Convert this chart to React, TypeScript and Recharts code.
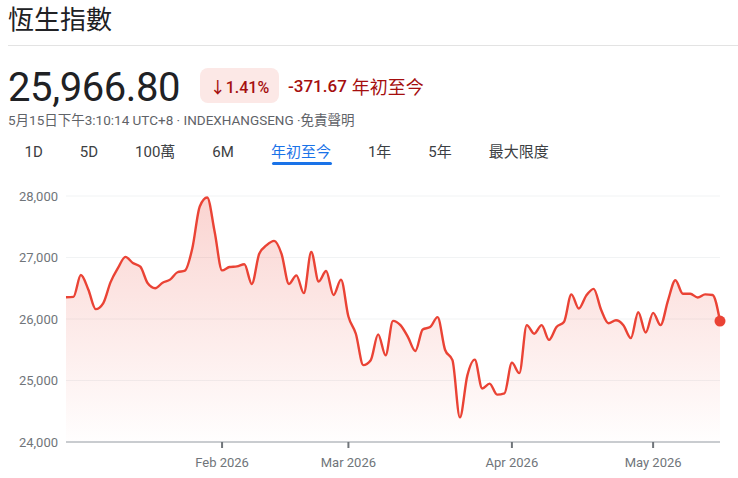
import React from 'react';
import { AreaChart, Area, XAxis, YAxis, CartesianGrid, ReferenceDot } from 'recharts';

const closes = [
  26353, 26360, 26715, 26480, 26160, 26255, 26600, 26830, 27010, 26910,
  26850, 26580, 26500, 26590, 26640, 26760, 26785, 27150, 27830, 27975,
  27420, 26790, 26845, 26855, 26890, 26570, 27060, 27200, 27270, 27060,
  26570, 26710, 26420, 27090, 26610, 26780, 26390, 26640, 26040, 25760,
  25250, 25330, 25750, 25410, 25970, 25900, 25710, 25480, 25830, 25870,
  26030, 25500, 25330, 24400, 25080, 25340, 24870, 24950, 24770, 24790,
  25290, 25120, 25900, 25760, 25900, 25660, 25870, 25950, 26400, 26170,
  26380, 26490, 26150, 25930, 25980, 25900, 25690, 26110, 25780, 26100,
  25900, 26300, 26630, 26410, 26410, 26350, 26400, 26390, 25966.8,
];
const monthTickIndex = [21, 38, 60, 79];
const monthTickLabels = ['Feb 2026', 'Mar 2026', 'Apr 2026', 'May 2026'];
const yTicks = [24000, 25000, 26000, 27000, 28000];
const tabs = ['1D', '5D', '100萬', '6M', '年初至今', '1年', '5年', '最大限度'];
const activeTab = '年初至今';
const title = '恆生指數';
const priceText = '25,966.80';
const pctText = '↓1.41%';
const changeText = '-371.67';
const periodText = '年初至今';
const metaText = '5月15日下午3:10:14 UTC+8 · INDEXHANGSENG ·免責聲明';

const data = closes.map((v, i) => ({ i, v }));

const FONT = 'Roboto, "Noto Sans CJK TC", sans-serif';
const RED = '#ea4335';
const DARKRED = '#a50e0e';

export default function App() {
  const last = closes.length - 1;
  return (
    <div style={{ position: 'absolute', left: 0, top: 0, width: 738, height: 478, background: '#fff', fontFamily: FONT, overflow: 'hidden' }}>
      <div style={{ position: 'absolute', left: 8, top: 4.5, fontSize: 26, lineHeight: '26px', color: '#202124', fontFamily: '"Noto Sans CJK TC", sans-serif', fontWeight: 400 }}>{title}</div>
      <div style={{ position: 'absolute', left: 8, right: 0, top: 45, height: 1, background: '#e3e3e3' }} />
      <div style={{ position: 'absolute', left: 8, top: 68, fontSize: 40, lineHeight: '40px', color: '#202124', letterSpacing: -0.4 }}>{priceText}</div>
      <div style={{ position: 'absolute', left: 200, top: 68, width: 79, height: 35, borderRadius: 8, background: '#fce8e6', display: 'flex', alignItems: 'center', justifyContent: 'center', color: DARKRED, fontSize: 16, fontWeight: 500 }}>{pctText}</div>
      <div style={{ position: 'absolute', left: 288, top: 68, height: 35, display: 'flex', alignItems: 'center', color: DARKRED, fontSize: 17, whiteSpace: 'nowrap' }}>
        <span style={{ fontWeight: 500 }}>{changeText}</span>
        <span style={{ marginLeft: 5, fontSize: 18 }}>{periodText}</span>
      </div>
      <div style={{ position: 'absolute', left: 8, top: 113, fontSize: 13.5, lineHeight: '15px', color: '#5f6368', whiteSpace: 'nowrap' }}>{metaText}</div>
      <div style={{ position: 'absolute', left: 24.5, top: 142, display: 'flex', gap: 37, fontSize: 15, lineHeight: '20px', fontWeight: 400, whiteSpace: 'nowrap' }}>
        {tabs.map((t) => (
          <div key={t} style={{ position: 'relative', color: t === activeTab ? '#1a73e8' : '#3c4043' }}>
            {t}
            {t === activeTab && (
              <div style={{ position: 'absolute', left: 1, right: -1, top: 19.5, height: 3, borderRadius: 2, background: '#1a73e8' }} />
            )}
          </div>
        ))}
      </div>
      <div style={{ position: 'absolute', left: 0, top: 170 }}>
        <AreaChart width={738} height={308} data={data} margin={{ top: 26, right: 18, bottom: 6, left: 0 }}>
          <defs>
            <linearGradient id="fillRed" x1="0" y1="0" x2="0" y2="1">
              <stop offset="0%" stopColor={RED} stopOpacity={0.38} />
              <stop offset="100%" stopColor={RED} stopOpacity={0.01} />
            </linearGradient>
          </defs>
          <CartesianGrid vertical={false} stroke="#f1f3f4" />
          <XAxis
            dataKey="i"
            type="number"
            domain={[0, last]}
            ticks={monthTickIndex}
            tickFormatter={(v: number) => monthTickLabels[monthTickIndex.indexOf(v)]}
            axisLine={{ stroke: '#9aa0a6' }}
            tickLine={{ stroke: '#70757a', strokeWidth: 2 }}
            tickSize={6}
            tickMargin={10}
            tick={{ fill: '#70757a', fontSize: 13 }}
            height={30}
          />
          <YAxis
            domain={[24000, 28000]}
            ticks={yTicks}
            axisLine={false}
            tickLine={false}
            width={66}
            tick={{ fill: '#70757a', fontSize: 13 }}
            tickFormatter={(v: number) => v.toLocaleString('en-US')}
          />
          <Area type="monotone" dataKey="v" stroke={RED} strokeWidth={2.4} fill="url(#fillRed)" isAnimationActive={false} dot={false} activeDot={false} />
          <ReferenceDot x={last} y={closes[last]} r={5.5} fill={RED} stroke="none" />
        </AreaChart>
      </div>
    </div>
  );
}
